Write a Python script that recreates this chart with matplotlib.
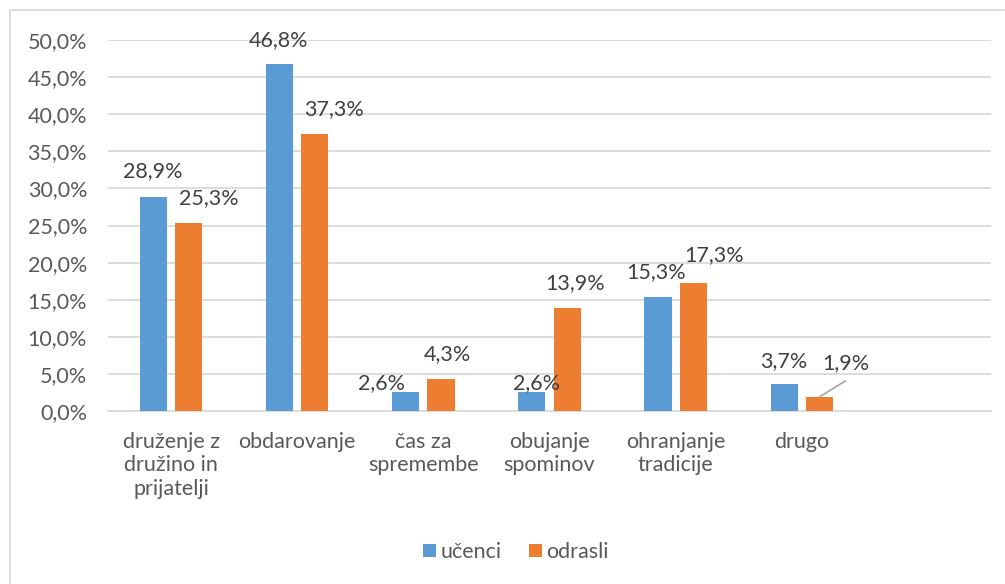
import matplotlib
matplotlib.use("Agg")
import matplotlib.pyplot as plt
from matplotlib.lines import Line2D
import numpy as np

categories = ["druženje z\ndružino in\nprijatelji", "obdarovanje", "čas za\nspremembe",
              "obujanje\nspominov", "ohranjanje\ntradicije", "drugo", ""]
series_names = ["učenci", "odrasli"]
ucenci = [28.9, 46.8, 2.6, 2.6, 15.3, 3.7]
odrasli = [25.3, 37.3, 4.3, 13.9, 17.3, 1.9]
yticks = [0, 5, 10, 15, 20, 25, 30, 35, 40, 45, 50]

# label offsets in pixels (dx, dy of text centre relative to bar top centre)
off_u = [(-1, 25), (-1, 24), (-24, 9), (5, 9), (-2, 25), (0, 22)]
off_o = [(20, 25), (19, 25), (6, 25), (8, 25), (21, 28), (26, 34)]

BLUE = "#5b9bd5"
ORANGE = "#ed7d31"
GRID = "#d9d9d9"
TXT = "#595959"
FONT = "Lato"
FS = 15.5

plt.rcParams["font.family"] = [FONT, "DejaVu Sans"]

fig = plt.figure(figsize=(10.05, 5.84), dpi=100)
W, H = 1005, 584
ax = fig.add_axes([108 / W, 1 - 411 / H, (991 - 108) / W, (411 - 40) / H])

x = np.arange(len(categories))
n = len(ucenci)
bw = 0.215
off = 0.14
bu = ax.bar(x[:n] - off, ucenci, width=bw, color=BLUE, zorder=3)
bo = ax.bar(x[:n] + off, odrasli, width=bw, color=ORANGE, zorder=3)

ax.set_xlim(-0.5, len(categories) - 0.5)
ax.set_ylim(0, 50)
ax.set_yticks(yticks)
ax.set_yticklabels([f"{v:.1f}%".replace(".", ",") for v in yticks])
ax.set_xticks(x)
ax.set_xticklabels(categories, linespacing=1.22)
ax.tick_params(axis="both", length=0, labelsize=FS, colors=TXT)
ax.tick_params(axis="y", pad=15)
ax.tick_params(axis="x", pad=15)
ax.grid(axis="y", color=GRID, linewidth=1.3, zorder=0)
for s in ["top", "right", "left"]:
    ax.spines[s].set_visible(False)
ax.spines["bottom"].set_color(GRID)
ax.spines["bottom"].set_linewidth(1.3)

def fmt(v):
    return f"{v:.1f}%".replace(".", ",")

for i in range(n):
    ax.annotate(fmt(ucenci[i]), xy=(x[i] - off, ucenci[i]), xytext=off_u[i],
                textcoords="offset pixels", ha="center", va="center",
                fontsize=FS, color="#404040", zorder=4)
    ax.annotate(fmt(odrasli[i]), xy=(x[i] + off, odrasli[i]), xytext=off_o[i],
                textcoords="offset pixels", ha="center", va="center",
                fontsize=FS, color="#404040", zorder=4)
    if i == n - 1:
        ax.annotate("", xy=(x[i] + off, odrasli[i]), xytext=(26, 16),
                    textcoords="offset pixels",
                    arrowprops=dict(arrowstyle="-", color="#a6a6a6", lw=1.2,
                                    shrinkA=0, shrinkB=0))

leg = fig.legend([bu, bo], series_names, loc="center", bbox_to_anchor=(516 / W, 1 - 552 / H),
                 ncol=2, frameon=False, fontsize=FS, handlelength=0.6, handleheight=0.6,
                 handletextpad=0.2, columnspacing=1.3)
for t in leg.get_texts():
    t.set_color(TXT)

# outer chart border (cropped: only left and top edges visible)
fig.add_artist(Line2D([10 / W, 10 / W], [0, 1 - 10 / H], transform=fig.transFigure,
                      color="#d9d9d9", lw=1.3))
fig.add_artist(Line2D([10 / W, 1004 / W], [1 - 10 / H, 1 - 10 / H], transform=fig.transFigure,
                      color="#d9d9d9", lw=1.3))

fig.savefig("out.png", dpi=100, facecolor="white")
